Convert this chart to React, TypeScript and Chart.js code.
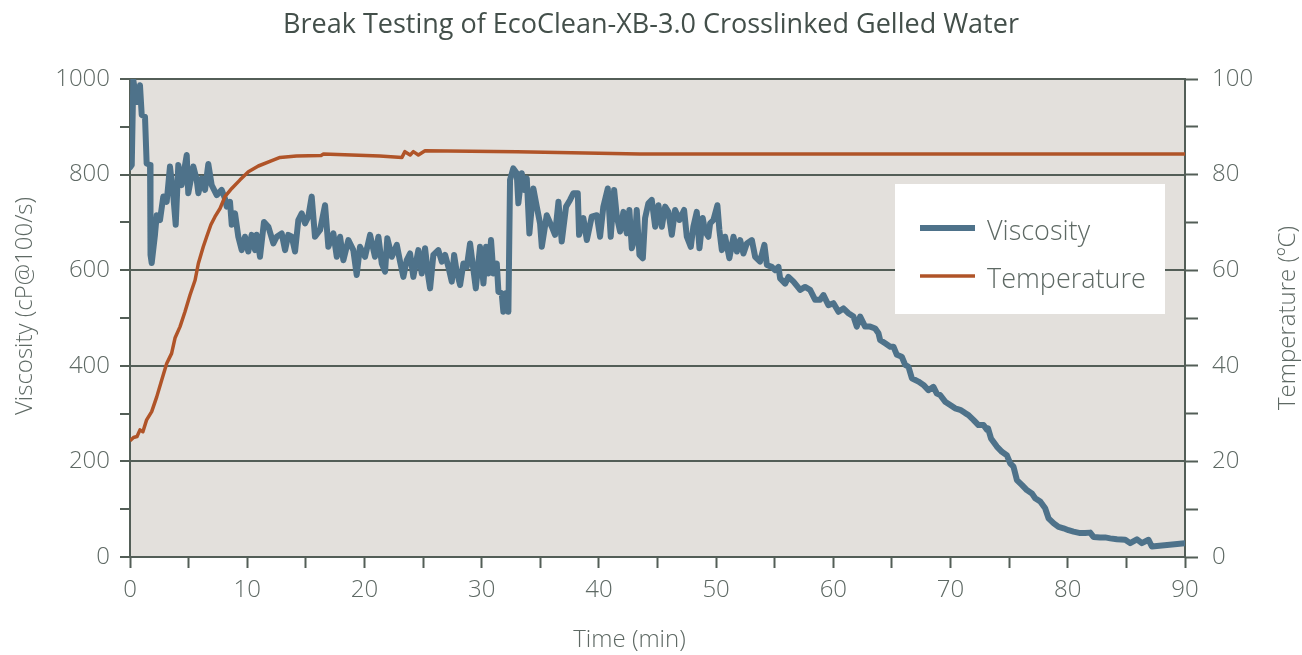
import React, { useEffect, useRef } from 'react';
import { Chart, registerables } from 'chart.js';

Chart.register(...registerables);

const TITLE = 'Break Testing of EcoClean-XB-3.0 Crosslinked Gelled Water';
const X_TITLE = 'Time (min)';
const Y_TITLE = 'Viscosity (cP@100/s)';
const Y2_TITLE = 'Temperature (ºC)';
const VISC_LABEL = 'Viscosity';
const TEMP_LABEL = 'Temperature';

const viscTime = [
  0, 0.15, 0.28, 0.57, 0.85, 1.0, 1.28, 1.42, 1.71, 1.75, 1.85, 2.13, 2.28, 2.56, 2.84, 3.13, 3.41, 3.69, 3.9, 4.12,
  4.41, 4.84, 4.97, 5.4, 5.69, 5.83, 6.12, 6.4, 6.68, 6.97, 7.4, 7.82, 8.1, 8.25, 8.53, 8.68, 8.96, 9.24, 9.53, 9.81,
  10.09, 10.38, 10.67, 10.81, 11.09, 11.43, 11.8, 12.23, 12.52, 12.94, 13.23, 13.5, 13.8, 14.08, 14.36, 14.65, 14.93, 15.21, 15.5, 15.78,
  16.21, 16.64, 16.92, 17.35, 17.64, 17.92, 18.2, 18.63, 19.05, 19.34, 19.62, 20.05, 20.48, 20.9, 21.19, 21.48, 21.76, 21.95, 22.33, 22.76,
  23.04, 23.32, 23.61, 23.89, 24.17, 24.6, 24.89, 25.17, 25.45, 25.6, 25.88, 26.3, 26.6, 26.88, 27.16, 27.45, 27.65, 27.87, 28.16, 28.44,
  28.73, 29.01, 29.3, 29.5, 29.86, 30.15, 30.38, 30.57, 30.8, 31.0, 31.29, 31.43, 31.71, 31.85, 32.08, 32.28, 32.42, 32.7, 32.99, 33.13,
  33.42, 33.62, 33.85, 34.07, 34.41, 34.7, 34.98, 35.13, 35.55, 35.98, 36.26, 36.55, 36.83, 37.2, 37.54, 37.82, 38.2, 38.31, 38.68, 38.97,
  39.39, 39.82, 40.1, 40.38, 40.76, 41.01, 41.3, 41.53, 41.81, 42.09, 42.38, 42.6, 42.81, 43.09, 43.23, 43.46, 43.75, 43.94, 44.22, 44.51,
  44.8, 45.08, 45.37, 45.65, 45.93, 46.22, 46.5, 46.87, 47.27, 47.5, 47.84, 48.06, 48.35, 48.58, 48.86, 49.06, 49.34, 49.49, 49.77, 50.11,
  50.28, 50.49, 50.77, 51.13, 51.48, 51.77, 52.05, 52.33, 52.62, 53.05, 53.33, 53.75, 54.12, 54.33, 54.75, 55.03, 55.32, 55.46, 55.89, 56.17,
  56.6, 57.17, 57.59, 58.02, 58.45, 58.87, 59.16, 59.58, 60.01, 60.44, 60.86, 61.29, 61.72, 62.0, 62.29, 62.71, 63.14, 63.57, 63.85, 63.99,
  64.42, 64.85, 65.13, 65.42, 65.84, 66.13, 66.41, 66.7, 67.26, 67.69, 68.11, 68.54, 68.83, 69.11, 69.54, 69.97, 70.39, 70.82, 71.25, 71.53,
  71.95, 72.38, 72.81, 73.1, 73.2, 73.45, 73.95, 74.38, 74.8, 75.09, 75.37, 75.66, 76.08, 76.51, 76.94, 77.22, 77.65, 78.07, 78.36, 78.78,
  79.21, 79.64, 80.06, 80.49, 81.06, 81.48, 81.91, 82.19, 82.76, 83.19, 83.62, 84.19, 84.9, 85.32, 85.9, 86.32, 86.89, 87.17, 90,
];

const viscosity = [
  815, 820, 998, 952, 987, 925, 921, 823, 820, 632, 615, 674, 715, 705, 754, 743, 817, 757, 695, 820,
  778, 841, 761, 817, 789, 761, 792, 768, 822, 778, 757, 768, 750, 733, 743, 695, 719, 670, 642, 670,
  639, 674, 642, 674, 628, 701, 691, 656, 670, 677, 642, 674, 670, 639, 705, 719, 698, 712, 754, 670,
  684, 736, 649, 677, 628, 670, 621, 663, 642, 590, 649, 628, 674, 628, 670, 614, 597, 667, 628, 653,
  618, 586, 621, 635, 586, 642, 593, 646, 586, 562, 632, 642, 618, 632, 607, 576, 632, 597, 569, 614,
  607, 656, 600, 562, 649, 572, 649, 593, 663, 593, 614, 555, 552, 513, 552, 513, 789, 813, 803, 740,
  803, 768, 792, 677, 771, 733, 698, 649, 715, 691, 674, 743, 660, 733, 747, 761, 761, 674, 709, 663,
  712, 715, 670, 733, 771, 670, 768, 712, 681, 722, 677, 726, 646, 670, 726, 632, 625, 709, 740, 747,
  691, 736, 691, 733, 722, 674, 726, 705, 726, 670, 649, 691, 722, 646, 709, 681, 670, 698, 705, 736,
  684, 642, 670, 625, 670, 639, 663, 635, 656, 663, 628, 618, 653, 611, 607, 600, 607, 583, 572, 586,
  576, 559, 565, 559, 538, 538, 548, 527, 531, 513, 520, 510, 503, 482, 503, 482, 482, 478, 468, 454,
  447, 440, 440, 423, 419, 402, 398, 374, 367, 360, 349, 356, 342, 339, 325, 318, 311, 308, 301, 297,
  287, 276, 276, 266, 269, 248, 231, 220, 213, 196, 189, 161, 151, 140, 133, 123, 116, 102, 81, 71,
  63, 60, 56, 53, 50, 50, 51, 42, 41, 41, 39, 37, 36, 29, 37, 29, 36, 22, 29,
];

const tempTime = [
  0, 0.3, 0.6, 0.85, 1.1, 1.42, 1.85, 2.28, 2.7, 3.13, 3.55, 3.84, 4.27, 4.69, 5.12, 5.55, 5.83, 6.25, 6.54, 6.9,
  7.25, 7.68, 8.1, 8.68, 9.39, 10.1, 10.95, 12.1, 12.8, 14.2, 16.3, 16.5, 21.3, 23.2, 23.45, 23.9, 24.17, 24.6, 25.17, 33,
  43.5, 90,
];

const temperature = [
  24.3, 25.0, 25.2, 26.6, 26.2, 28.7, 30.4, 33.5, 37.0, 40.5, 42.6, 45.8, 48.2, 51.3, 54.8, 57.9, 61.4, 64.9, 67.0, 69.5,
  71.2, 72.9, 75.4, 77.1, 78.9, 80.6, 81.8, 82.9, 83.6, 83.9, 84.0, 84.3, 83.9, 83.6, 84.8, 84.1, 84.8, 84.1, 85.0, 84.8,
  84.3, 84.3,
];

const FONT = '"Open Sans", "Noto Sans", sans-serif';
const GRID = '#535e57';
const TEXT = '#5e6964';
const BLUE = '#4e728a';
const ORANGE = '#b05428';
const PLOT_BG = '#e3e0dc';

const plotBg = {
  id: 'plotBg',
  beforeDraw(chart: any) {
    const { ctx, chartArea } = chart;
    ctx.save();
    ctx.fillStyle = PLOT_BG;
    ctx.fillRect(chartArea.left, chartArea.top, chartArea.right - chartArea.left, chartArea.bottom - chartArea.top);
    ctx.restore();
  },
};

const axisTitles = {
  id: 'axisTitles',
  afterDraw(chart: any) {
    const { ctx, chartArea } = chart;
    const midY = (chartArea.top + chartArea.bottom) / 2;
    ctx.save();
    ctx.fillStyle = TEXT;
    ctx.font = `300 24px ${FONT}`;
    ctx.textAlign = 'center';
    ctx.textBaseline = 'middle';
    ctx.fillText(X_TITLE, (chartArea.left + chartArea.right) / 2 - 28, chart.height - 15);
    ctx.save();
    ctx.translate(chart.scales.y.left + 25, midY - 12);
    ctx.rotate(-Math.PI / 2);
    ctx.fillText(Y_TITLE, 0, 0);
    ctx.restore();
    ctx.save();
    ctx.translate(chart.scales.y2.right - 14, midY);
    ctx.rotate(-Math.PI / 2);
    ctx.fillText(Y2_TITLE, 0, 0);
    ctx.restore();
    ctx.restore();
  },
};

const legendBox = {
  id: 'legendBox',
  afterDatasetsDraw(chart: any) {
    const { ctx, chartArea } = chart;
    const w = 270;
    const h = 130;
    const x = chartArea.right - 20 - w;
    const y = chartArea.top + 105;
    ctx.save();
    ctx.fillStyle = '#ffffff';
    ctx.fillRect(x, y, w, h);
    ctx.font = `300 27px ${FONT}`;
    ctx.textAlign = 'left';
    ctx.textBaseline = 'alphabetic';
    chart.data.datasets.forEach((ds: any, i: number) => {
      const ly = y + 44 + i * 48;
      ctx.strokeStyle = ds.borderColor;
      ctx.lineWidth = ds.borderWidth;
      ctx.lineCap = 'butt';
      ctx.beginPath();
      ctx.moveTo(x + 25, ly);
      ctx.lineTo(x + 80, ly);
      ctx.stroke();
      ctx.fillStyle = TEXT;
      ctx.fillText(ds.label, x + 92, ly + 12);
    });
    ctx.restore();
  },
};

export default function App() {
  const ref = useRef<HTMLCanvasElement | null>(null);

  useEffect(() => {
    if (!ref.current) return;
    const viscData = viscTime.map((t, i) => ({ x: t, y: viscosity[i] }));
    const tempData = tempTime.map((t, i) => ({ x: t, y: temperature[i] }));
    const tickFont = { family: FONT, size: 24, weight: '300' as any };
    const chart = new Chart(ref.current, {
      type: 'line',
      data: {
        datasets: [
          {
            label: VISC_LABEL,
            data: viscData,
            borderColor: BLUE,
            borderWidth: 6,
            pointRadius: 0,
            tension: 0,
            borderJoinStyle: 'round',
            borderCapStyle: 'round',
            yAxisID: 'y',
            order: 2,
          },
          {
            label: TEMP_LABEL,
            data: tempData,
            borderColor: ORANGE,
            borderWidth: 3.5,
            pointRadius: 0,
            tension: 0,
            borderJoinStyle: 'round',
            yAxisID: 'y2',
            order: 1,
          },
        ],
      },
      options: {
        animation: false,
        responsive: true,
        maintainAspectRatio: false,
        layout: { padding: 0 },
        plugins: {
          legend: { display: false },
          tooltip: { enabled: false },
          title: {
            display: true,
            text: TITLE,
            color: '#434f4a',
            font: { family: FONT, size: 27, weight: '400' as any },
            padding: { top: 9, bottom: 37.6 },
          },
        },
        scales: {
          x: {
            type: 'linear',
            min: 0,
            max: 90,
            afterFit: (s: any) => { s.height = 98; },
            ticks: {
              stepSize: 5,
              autoSkip: false,
              maxRotation: 0,
              color: TEXT,
              font: tickFont,
              padding: 8,
              callback: (v: any) => (Number(v) % 10 === 0 ? String(v) : ''),
            },
            grid: { drawOnChartArea: false, drawTicks: true, tickLength: 11, tickColor: GRID, tickWidth: 2 },
            border: { display: true, color: GRID, width: 2 },
          },
          y: {
            type: 'linear',
            position: 'left',
            min: 0,
            max: 1000,
            afterFit: (s: any) => { s.width = 130; },
            ticks: {
              stepSize: 100,
              autoSkip: false,
              color: TEXT,
              font: tickFont,
              padding: 10,
              callback: (v: any) => (Number(v) % 200 === 0 ? String(v) : ''),
            },
            grid: {
              color: (c: any) => (c.tick && c.tick.value % 200 === 0 ? GRID : 'rgba(0,0,0,0)'),
              lineWidth: 2,
              drawTicks: true,
              tickLength: 10,
              tickColor: GRID,
              tickWidth: 2,
            },
            border: { display: true, color: GRID, width: 2 },
          },
          y2: {
            type: 'linear',
            position: 'right',
            min: 0,
            max: 100,
            afterFit: (s: any) => { s.width = 117; },
            ticks: {
              stepSize: 10,
              autoSkip: false,
              color: TEXT,
              font: tickFont,
              padding: 14,
              callback: (v: any) => (Number(v) % 20 === 0 ? String(v) : ''),
            },
            grid: { drawOnChartArea: false, drawTicks: true, tickLength: 13, tickColor: GRID, tickWidth: 2 },
            border: { display: true, color: GRID, width: 2 },
          },
        },
      },
      plugins: [plotBg, axisTitles, legendBox],
    });
    return () => chart.destroy();
  }, []);

  return (
    <div style={{ position: 'fixed', left: 0, top: 0, width: '1302px', height: '655px', background: '#ffffff' }}>
      <canvas ref={ref} />
    </div>
  );
}
